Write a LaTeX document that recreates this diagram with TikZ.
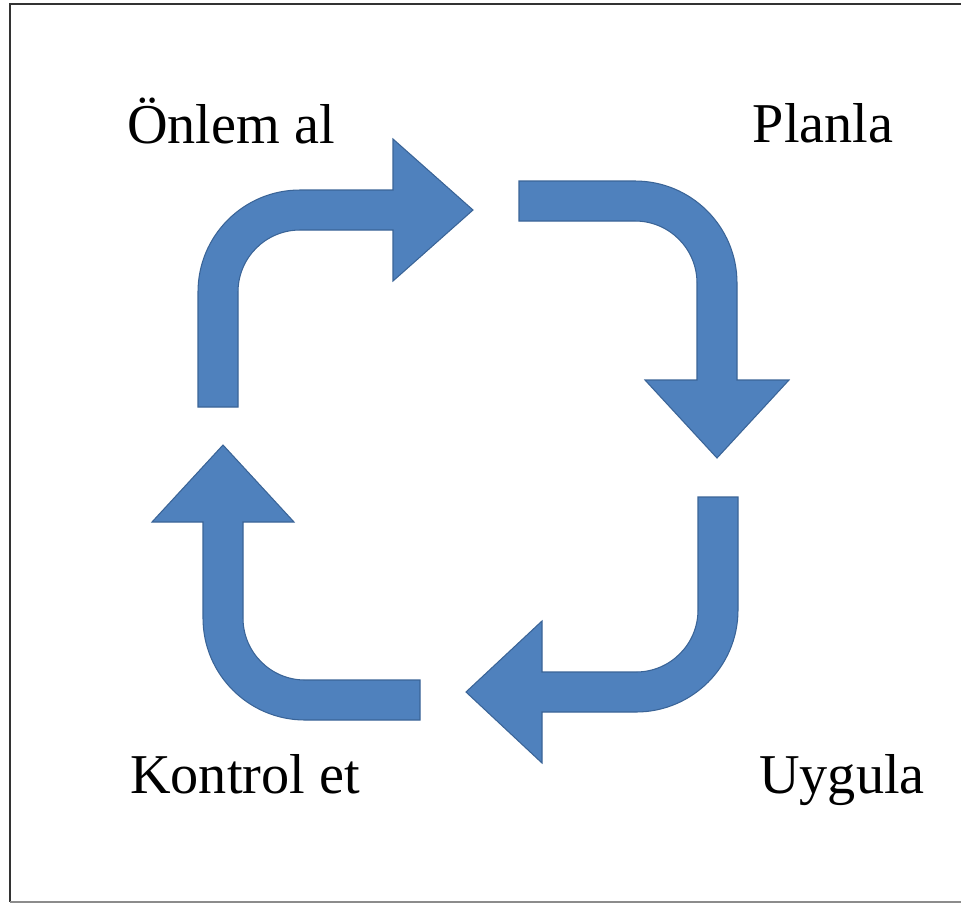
\documentclass[tikz,border=0pt]{standalone}
\usepackage{fontspec}
\setmainfont{Liberation Serif}
\usepackage{tikz}
\usetikzlibrary{calc}
\definecolor{arrowfill}{HTML}{4F81BD}
\definecolor{arrowline}{HTML}{3A6497}
\tikzstyle{bent} = [fill=arrowfill, draw=arrowline, line width=0.6pt, line join=miter]
\tikzstyle{label} = [anchor=base, inner sep=0pt, font=\fontsize{32}{36}\selectfont]
\tikzstyle{frame} = [draw=black!80, line width=1.6pt]

\begin{document}
\begin{tikzpicture}[x=0.02cm, y=-0.02cm]
        \useasboundingbox (0,0) rectangle (961,904);
        % frame
        \draw[frame] (961,4) -- (10,4) -- (10,902);
        \draw[frame, draw=black!45] (10,902) -- (961,902);
        % labels
        \node[label] (onlem) at (231,143) {Önlem al};
        \node[label] (planla) at (823,142) {Planla};
        \node[label] (uygula) at (842,793) {Uygula};
        \node[label] (kontrol) at (245,793) {Kontrol et};
        % Önlem al -> Planla
        \path[bent] (198,407) -- (198,292) arc[start angle=180, end angle=270, radius=102]
            -- (393,190) -- (393,139) -- (473,210) -- (393,281) -- (393,230)
            -- (300,230) arc[start angle=270, end angle=180, radius=62] -- (238,407) -- cycle;
        % Planla -> Uygula
        \path[bent] (519,181) -- (635,181) arc[start angle=270, end angle=360, radius=102]
            -- (737,380) -- (789,380) -- (717,458) -- (645,380) -- (697,380)
            -- (697,283) arc[start angle=0, end angle=-90, radius=62] -- (519,221) -- cycle;
        % Uygula -> Kontrol et
        \path[bent] (738,497) -- (738,610) arc[start angle=0, end angle=90, radius=102]
            -- (542,712) -- (542,763) -- (466,692) -- (542,621) -- (542,672)
            -- (636,672) arc[start angle=90, end angle=0, radius=62] -- (698,497) -- cycle;
        % Kontrol et -> Önlem al
        \path[bent] (420,720) -- (305,720) arc[start angle=90, end angle=180, radius=102]
            -- (203,522) -- (152,522) -- (223,445) -- (294,522) -- (243,522)
            -- (243,618) arc[start angle=180, end angle=90, radius=62] -- (420,680) -- cycle;
    \end{tikzpicture}
\end{document}
